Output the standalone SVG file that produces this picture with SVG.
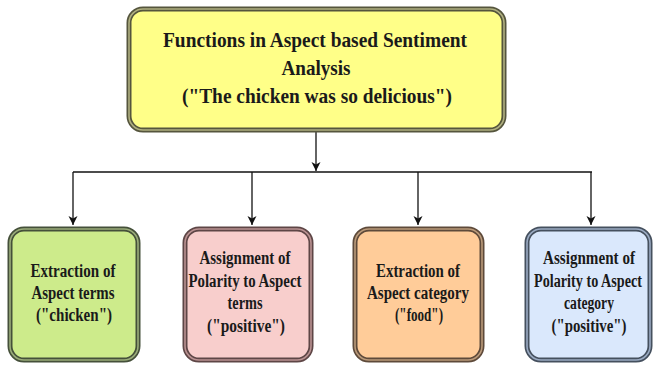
<svg xmlns="http://www.w3.org/2000/svg" width="653" height="365" viewBox="0 0 653 365">
<defs>
<style>
text{font-weight:bold;fill:#1a1a1a;text-anchor:middle}
.t{font-size:22px}
.b{font-size:18px}
.conn{stroke:#111;stroke-width:1.3;fill:none}
.outer{stroke-width:5}
.inner{fill:none;stroke-width:1.6}
</style>
<marker id="ah" markerWidth="10" markerHeight="10" refX="9" refY="5" orient="auto" markerUnits="userSpaceOnUse">
<path d="M0,0.5 L9,5 L0,9.5 L2.5,5 Z" fill="#111"/>
</marker>
</defs>
<rect width="653" height="365" fill="#fff"/>
<g id="connectors">
<line class="conn" x1="316" y1="131" x2="316" y2="171" marker-end="url(#ah)"/>
<line class="conn" x1="73" y1="172" x2="592" y2="172"/>
<line class="conn" x1="73" y1="172" x2="73" y2="225" marker-end="url(#ah)"/>
<line class="conn" x1="252" y1="172" x2="252" y2="225" marker-end="url(#ah)"/>
<line class="conn" x1="418" y1="172" x2="418" y2="225" marker-end="url(#ah)"/>
<line class="conn" x1="591" y1="172" x2="591" y2="225" marker-end="url(#ah)"/>
</g>
<g id="root" font-family="Liberation Serif, serif">
<rect class="outer" x="129" y="9" width="375" height="121" rx="14" fill="#ffff88" stroke="#55553d"/>
<rect class="inner" x="129" y="9" width="375" height="121" rx="14" stroke="#b0b080"/>
<text class="t" x="315" y="47" textLength="304" lengthAdjust="spacingAndGlyphs">Functions in Aspect based Sentiment</text>
<text class="t" x="316" y="75" textLength="69" lengthAdjust="spacingAndGlyphs">Analysis</text>
<text class="t" x="317" y="103" textLength="270" lengthAdjust="spacingAndGlyphs">("The chicken was so delicious")</text>
</g>
<g id="n1" font-family="Liberation Serif, serif">
<rect class="outer" x="10" y="229" width="128" height="131" rx="14" fill="#cdeb8b" stroke="#45503a"/>
<rect class="inner" x="10" y="229" width="128" height="131" rx="14" stroke="#9aac7a"/>
<text class="b" x="73" y="277" textLength="85" lengthAdjust="spacingAndGlyphs">Extraction of</text>
<text class="b" x="73" y="299" textLength="83" lengthAdjust="spacingAndGlyphs">Aspect terms</text>
<text class="b" x="74" y="321" textLength="76" lengthAdjust="spacingAndGlyphs">("chicken")</text>
</g>
<g id="n2" font-family="Liberation Serif, serif">
<rect class="outer" x="185" y="229" width="126" height="131" rx="14" fill="#f8cecc" stroke="#5e4646"/>
<rect class="inner" x="185" y="229" width="126" height="131" rx="14" stroke="#ba9292"/>
<text class="b" x="245" y="264" textLength="91" lengthAdjust="spacingAndGlyphs">Assignment of</text>
<text class="b" x="245" y="287" textLength="113" lengthAdjust="spacingAndGlyphs">Polarity to Aspect</text>
<text class="b" x="245" y="309" textLength="35" lengthAdjust="spacingAndGlyphs">terms</text>
<text class="b" x="246" y="332" textLength="78" lengthAdjust="spacingAndGlyphs">("positive")</text>
</g>
<g id="n3" font-family="Liberation Serif, serif">
<rect class="outer" x="355" y="229" width="127" height="131" rx="14" fill="#ffcc99" stroke="#5e4a3a"/>
<rect class="inner" x="355" y="229" width="127" height="131" rx="14" stroke="#ba9a7a"/>
<text class="b" x="418" y="277" textLength="84" lengthAdjust="spacingAndGlyphs">Extraction of</text>
<text class="b" x="418" y="299" textLength="102" lengthAdjust="spacingAndGlyphs">Aspect category</text>
<text class="b" x="419" y="321" textLength="48" lengthAdjust="spacingAndGlyphs">("food")</text>
</g>
<g id="n4" font-family="Liberation Serif, serif">
<rect class="outer" x="527" y="229" width="123" height="131" rx="14" fill="#dae8fc" stroke="#45505e"/>
<rect class="inner" x="527" y="229" width="123" height="131" rx="14" stroke="#9aaac2"/>
<text class="b" x="589" y="264" textLength="92" lengthAdjust="spacingAndGlyphs">Assignment of</text>
<text class="b" x="588" y="287" textLength="108" lengthAdjust="spacingAndGlyphs">Polarity to Aspect</text>
<text class="b" x="589" y="309" textLength="50" lengthAdjust="spacingAndGlyphs">category</text>
<text class="b" x="589" y="332" textLength="75" lengthAdjust="spacingAndGlyphs">("positive")</text>
</g>
</svg>
